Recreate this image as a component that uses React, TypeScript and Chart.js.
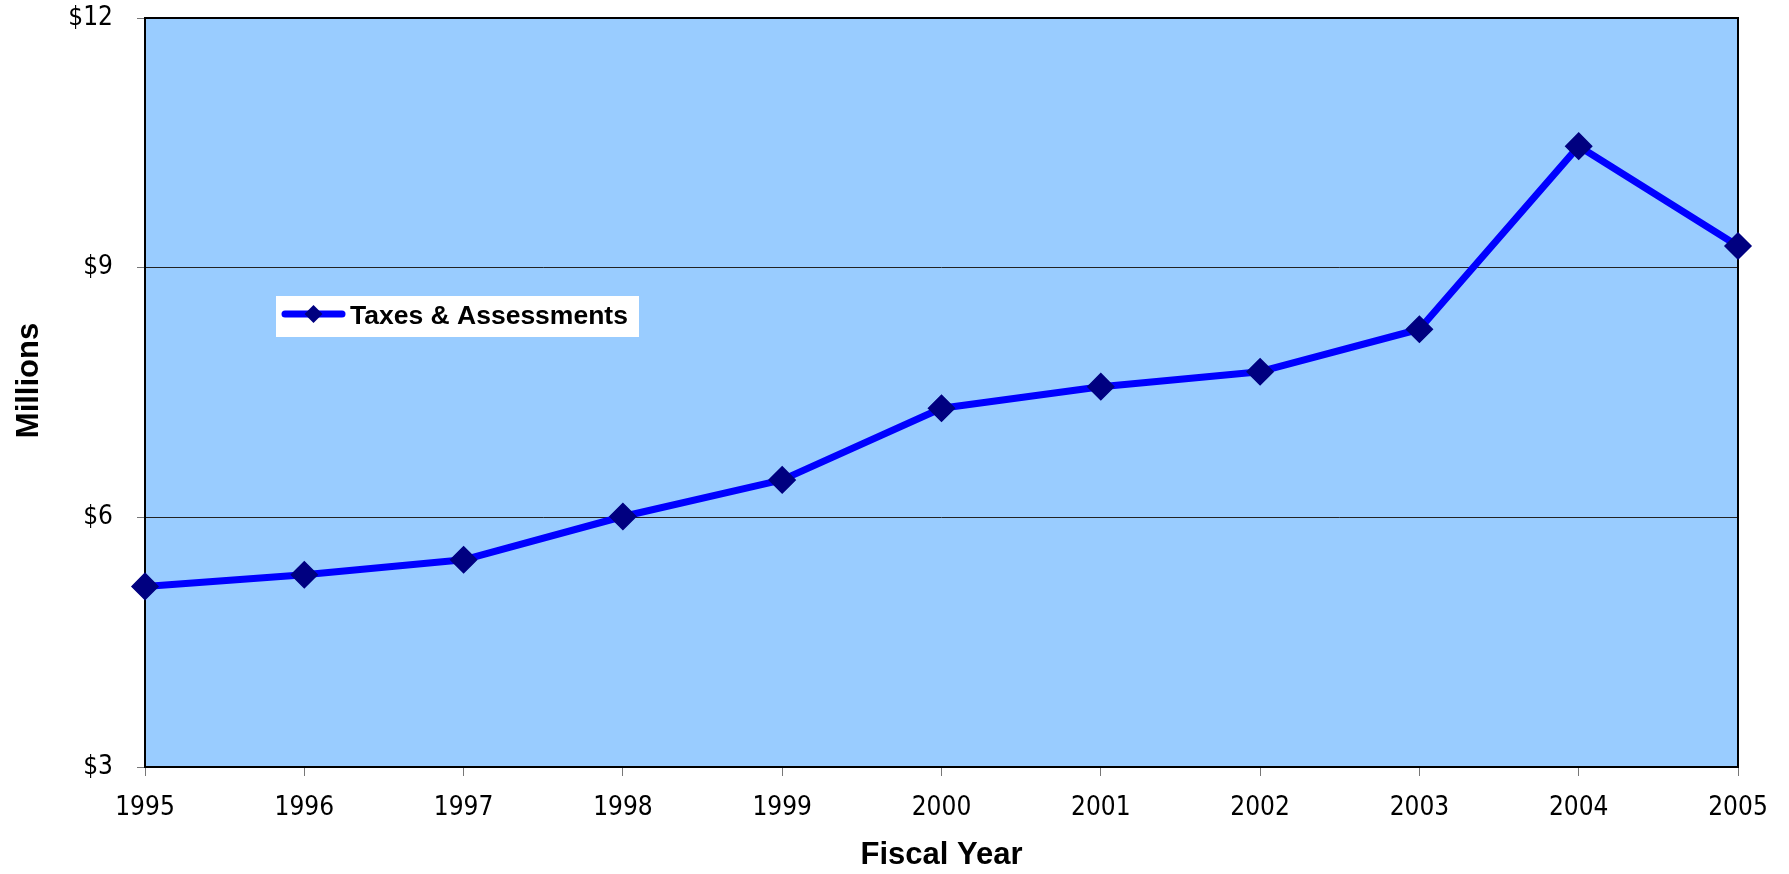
import React, { useEffect, useRef } from 'react';
import { Chart, registerables } from 'chart.js';

Chart.register(...registerables);

const years: string[] = ['1995', '1996', '1997', '1998', '1999', '2000', '2001', '2002', '2003', '2004', '2005'];
const taxesAssessments: number[] = [5.17, 5.31, 5.49, 6.01, 6.45, 7.31, 7.57, 7.75, 8.26, 10.46, 9.26];
const seriesLabel = 'Taxes & Assessments';
const yMin = 3;
const yMax = 12;
const yStep = 3;
const xTitle = 'Fiscal Year';
const yTitle = 'Millions';

const LINE_COLOR = '#0000FF';
const POINT_COLOR = '#000080';
const PLOT_BG = '#99CCFF';
const TICK_FONT = '"DejaVu Sans Condensed", "DejaVu Sans", sans-serif';
const BOLD_FONT = '"Liberation Sans", Arial, sans-serif';

const framePlugin = {
  id: 'plotFrame',
  beforeDraw(chart: any) {
    const { ctx, chartArea: a } = chart;
    ctx.save();
    ctx.fillStyle = PLOT_BG;
    ctx.fillRect(a.left, a.top, a.right - a.left, a.bottom - a.top);
    ctx.restore();
  },
  beforeDatasetsDraw(chart: any) {
    const { ctx, chartArea: a } = chart;
    ctx.save();
    ctx.strokeStyle = '#000000';
    ctx.lineWidth = 2;
    ctx.strokeRect(a.left, a.top, a.right - a.left, a.bottom - a.top);
    ctx.restore();
  },
  afterDraw(chart: any) {
    const { ctx, chartArea: a } = chart;
    const ds = chart.data.datasets[0];
    // y-axis title (slightly above the plot's vertical centre, as in the original)
    ctx.save();
    ctx.fillStyle = '#000000';
    ctx.font = `bold 31px ${BOLD_FONT}`;
    ctx.textAlign = 'center';
    ctx.textBaseline = 'middle';
    ctx.translate(29, (a.top + a.bottom) / 2 - 12);
    ctx.rotate(-Math.PI / 2);
    ctx.fillText(yTitle, 0, 0);
    ctx.restore();

    const bx = a.left + 131;
    const by = a.top + 278;
    const bw = 363;
    const bh = 41;
    ctx.save();
    ctx.fillStyle = '#FFFFFF';
    ctx.fillRect(bx, by, bw, bh);
    const cy = by + 18;
    ctx.strokeStyle = ds.borderColor;
    ctx.lineWidth = 7;
    ctx.lineCap = 'round';
    ctx.beginPath();
    ctx.moveTo(bx + 9, cy);
    ctx.lineTo(bx + 66, cy);
    ctx.stroke();
    const dx = bx + 37.5;
    const r = 9;
    ctx.fillStyle = ds.pointBackgroundColor;
    ctx.beginPath();
    ctx.moveTo(dx, cy - r);
    ctx.lineTo(dx + r, cy);
    ctx.lineTo(dx, cy + r);
    ctx.lineTo(dx - r, cy);
    ctx.closePath();
    ctx.fill();
    ctx.fillStyle = '#000000';
    ctx.font = `bold 26.5px ${BOLD_FONT}`;
    ctx.textAlign = 'left';
    ctx.textBaseline = 'middle';
    ctx.fillText(ds.label, bx + 74, cy + 3);
    ctx.restore();
  },
};

export default function App() {
  const canvasRef = useRef<HTMLCanvasElement | null>(null);

  useEffect(() => {
    const canvas = canvasRef.current;
    if (!canvas) return;
    const chart = new Chart(canvas, {
      type: 'line',
      data: {
        labels: years,
        datasets: [
          {
            label: seriesLabel,
            data: taxesAssessments,
            borderColor: LINE_COLOR,
            backgroundColor: LINE_COLOR,
            borderWidth: 7,
            borderJoinStyle: 'round',
            pointStyle: 'rectRot',
            pointRadius: 13,
            pointHoverRadius: 13,
            pointBackgroundColor: POINT_COLOR,
            pointBorderColor: POINT_COLOR,
            pointBorderWidth: 1.5,
            tension: 0,
            fill: false,
          },
        ],
      },
      options: {
        animation: false,
        responsive: false,
        maintainAspectRatio: false,
        events: [],
        layout: { padding: { top: 18, right: 51, left: 0, bottom: 0 } },
        plugins: {
          legend: { display: false },
          tooltip: { enabled: false },
        },
        scales: {
          x: {
            type: 'category',
            offset: false,
            border: { display: false },
            grid: {
              drawOnChartArea: false,
              drawTicks: true,
              tickLength: 9,
              tickColor: '#777777',
              lineWidth: 1,
            },
            ticks: {
              color: '#000000',
              font: { family: TICK_FONT, size: 26 },
              padding: 17,
              maxRotation: 0,
              autoSkip: false,
            },
            title: {
              display: true,
              text: xTitle,
              color: '#000000',
              font: { family: BOLD_FONT, size: 31, weight: 'bold' },
              padding: { top: 0, bottom: 0 },
            },
            afterFit(scale: any) {
              scale.height = 107;
              scale.paddingLeft = 0;
              scale.paddingRight = 0;
            },
          },
          y: {
            min: yMin,
            max: yMax,
            border: { display: false },
            grid: {
              color: '#222222',
              lineWidth: 1,
              drawTicks: true,
              tickLength: 8,
              tickColor: '#777777',
            },
            ticks: {
              stepSize: yStep,
              color: '#000000',
              font: { family: TICK_FONT, size: 26 },
              padding: 24,
              callback: (v: any) => '$' + v,
            },
            title: { display: false },
            afterFit(scale: any) {
              scale.width = 145;
              scale.paddingTop = 0;
              scale.paddingBottom = 0;
            },
          },
        },
      },
      plugins: [framePlugin],
    } as any);
    return () => chart.destroy();
  }, []);

  return (
    <div style={{ position: 'fixed', left: 0, top: 0, width: 1789, height: 874, background: '#FFFFFF' }}>
      <canvas ref={canvasRef} width={1789} height={874} style={{ display: 'block', width: 1789, height: 874 }} />
    </div>
  );
}
